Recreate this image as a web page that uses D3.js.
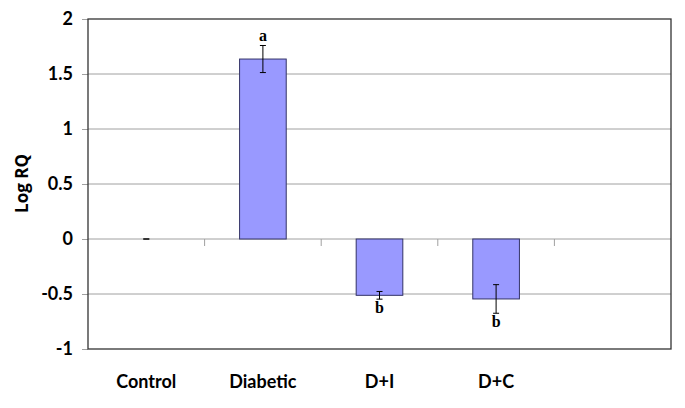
<!DOCTYPE html>
<html>
<head>
<meta charset="utf-8">
<script src="https://cdn.jsdelivr.net/npm/d3@7"></script>
<style>
  body { margin: 0; background: #fff; }
  .tick-label { font-family: Lato, "Open Sans", sans-serif; font-weight: bold; }
</style>
</head>
<body>
<div id="chart"></div>
<script>
var categories = ['Control', 'Diabetic', 'D+I', 'D+C', ''];
var values = [0, 1.636, -0.512, -0.545, null];
var errors = [0, 0.123, 0.035, 0.13, null];
var letters = ['', 'a', 'b', 'b', ''];
var yTicks = [2, 1.5, 1, 0.5, 0, -0.5, -1];

var margin = {top: 19, right: 14, bottom: 59, left: 88},
    width = 685 - margin.left - margin.right,
    height = 408 - margin.top - margin.bottom;

var svg = d3.select('#chart').append('svg')
    .attr('width', 685)
    .attr('height', 408)
  .append('g')
    .attr('transform', 'translate(' + margin.left + ',' + margin.top + ')');

var x = d3.scaleBand()
    .domain(d3.range(categories.length))
    .range([0, width]);

var y = d3.scaleLinear()
    .domain([-1, 2])
    .range([height, 0]);

// gridlines
svg.selectAll('.grid')
  .data(yTicks.filter(d => d > -1 && d < 2))
  .enter().append('line')
    .attr('class', 'grid')
    .attr('x1', 0).attr('x2', width)
    .attr('y1', d => y(d)).attr('y2', d => y(d))
    .attr('stroke', '#a0a0a0')
    .attr('stroke-width', 1);

// category ticks hanging below zero line
svg.selectAll('.ctick')
  .data(d3.range(1, categories.length))
  .enter().append('line')
    .attr('x1', d => x(d)).attr('x2', d => x(d))
    .attr('y1', y(0)).attr('y2', y(0) + 7)
    .attr('stroke', '#a0a0a0');

// y axis
var yAxis = svg.append('g')
    .call(d3.axisLeft(y).tickValues(yTicks).tickSize(6).tickPadding(9).tickFormat(d => String(d)));
yAxis.select('.domain').remove();
yAxis.selectAll('line').attr('stroke', '#a0a0a0');
yAxis.selectAll('text')
    .attr('class', 'tick-label')
    .attr('font-size', 18)
    .attr('fill', '#000');

// bars
var bw = x.bandwidth() * 0.4;
var data = categories.map((c, i) => ({i: i, v: values[i], e: errors[i], l: letters[i]}))
    .filter(d => d.v !== null);

svg.selectAll('.bar')
  .data(data.filter(d => d.v !== 0))
  .enter().append('rect')
    .attr('class', 'bar')
    .attr('x', d => x(d.i) + (x.bandwidth() - bw) / 2)
    .attr('width', bw)
    .attr('y', d => y(Math.max(0, d.v)))
    .attr('height', d => Math.abs(y(d.v) - y(0)))
    .attr('fill', '#9999ff')
    .attr('stroke', '#333366')
    .attr('stroke-width', 1);

// error bars
var cap = 3;
var eb = svg.selectAll('.err')
  .data(data)
  .enter().append('g')
    .attr('transform', d => 'translate(' + (x(d.i) + x.bandwidth() / 2) + ',0)');
eb.append('line')
    .attr('y1', d => y(d.v - d.e)).attr('y2', d => y(d.v + d.e))
    .attr('stroke', '#000');
eb.append('line')
    .attr('x1', -cap).attr('x2', cap)
    .attr('y1', d => y(d.v + d.e)).attr('y2', d => y(d.v + d.e))
    .attr('stroke', '#000');
eb.append('line')
    .attr('x1', -cap).attr('x2', cap)
    .attr('y1', d => y(d.v - d.e)).attr('y2', d => y(d.v - d.e))
    .attr('stroke', '#000');

// significance letters
svg.selectAll('.sig')
  .data(data.filter(d => d.l))
  .enter().append('text')
    .attr('x', d => x(d.i) + x.bandwidth() / 2)
    .attr('y', d => d.v > 0 ? y(d.v + d.e) - 5 : y(d.v - d.e) + 14)
    .attr('text-anchor', 'middle')
    .attr('font-family', '"Liberation Serif", serif')
    .attr('font-weight', 'bold')
    .attr('font-size', 16)
    .text(d => d.l);

// plot frame
svg.append('rect')
    .attr('width', width)
    .attr('height', height)
    .attr('fill', 'none')
    .attr('stroke', '#333')
    .attr('stroke-width', 1.3);

// x labels
svg.selectAll('.xlab')
  .data(categories)
  .enter().append('text')
    .attr('class', 'tick-label')
    .attr('x', (d, i) => x(i) + x.bandwidth() / 2)
    .attr('y', height + 39)
    .attr('text-anchor', 'middle')
    .attr('font-size', 18)
    .text(d => d);

// y title
svg.append('text')
    .attr('transform', 'translate(-60,' + (183.5 - margin.top) + ') rotate(-90)')
    .attr('text-anchor', 'middle')
    .attr('font-family', '"Open Sans", sans-serif')
    .attr('font-weight', 'bold')
    .attr('font-size', 17)
    .text('Log RQ');
</script>
</body>
</html>
